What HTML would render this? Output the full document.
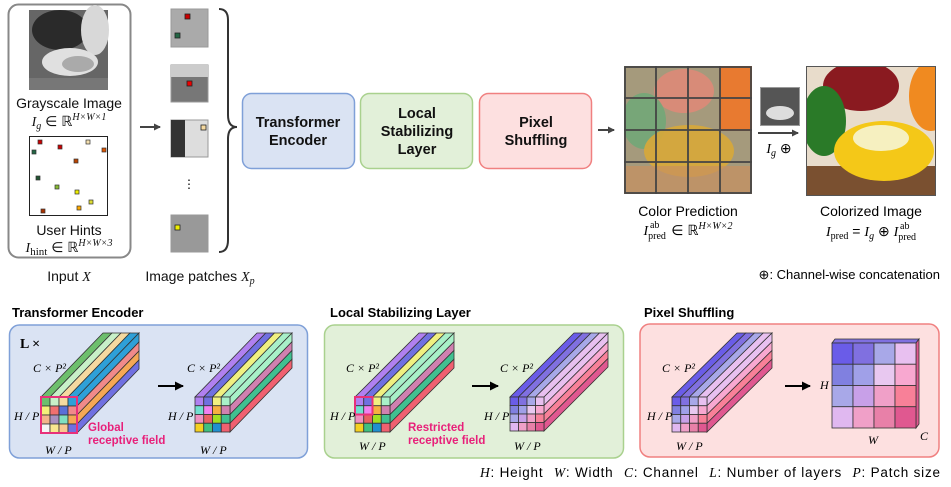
<!DOCTYPE html>
<html><head><meta charset="utf-8"><style>
body{margin:0;background:#fff}
svg{display:block;font-family:"Liberation Sans",sans-serif}
.m{font-family:"Liberation Serif",serif;font-style:italic}
</style></head><body>
<svg id="s" width="951" height="487" viewBox="0 0 951 487" xmlns="http://www.w3.org/2000/svg">
<defs>
<marker id="ah" markerWidth="8" markerHeight="8" refX="6" refY="4" orient="auto" markerUnits="userSpaceOnUse"><path d="M0,0.5 L7,4 L0,7.5 z" fill="#444"/></marker>
<marker id="ab" markerWidth="10" markerHeight="10" refX="8" refY="5" orient="auto" markerUnits="userSpaceOnUse"><path d="M0,0.5 L9,5 L0,9.5 z" fill="#000"/></marker>
</defs>
<!-- Input box -->
<rect x="8.5" y="4.5" width="122" height="253" rx="10" fill="#fff" stroke="#888" stroke-width="2"/>
<rect x="29" y="10" width="79" height="80" fill="#666"/>
<ellipse cx="60" cy="30" rx="28" ry="20" fill="#2a2a2a"/>
<ellipse cx="95" cy="30" rx="14" ry="25" fill="#d8d8d8"/>
<ellipse cx="70" cy="62" rx="28" ry="14" fill="#e0e0e0"/>
<ellipse cx="78" cy="64" rx="16" ry="8" fill="#aaa"/>
<rect x="29" y="78" width="79" height="12" fill="#777"/>
<text x="69" y="108" font-size="14" text-anchor="middle" fill="#111">Grayscale Image</text>
<text x="69" y="126" font-size="14" text-anchor="middle" fill="#111"><tspan class="m">I</tspan><tspan class="m" font-size="10" dy="3">g</tspan><tspan dy="-3"> ∈ ℝ</tspan><tspan class="m" font-size="10" dy="-6">H×W×1</tspan></text>
<rect x="29.5" y="136.5" width="78" height="79" fill="#fff" stroke="#222"/>
<g stroke="#333" stroke-width="0.7">
<rect x="38" y="140" width="4" height="4" fill="#c00"/><rect x="58" y="145" width="4" height="4" fill="#c00"/><rect x="86" y="140" width="4" height="4" fill="#f5e0b0"/><rect x="32" y="150" width="4" height="4" fill="#264"/><rect x="102" y="148" width="4" height="4" fill="#d50"/><rect x="74" y="159" width="4" height="4" fill="#b40"/><rect x="36" y="176" width="4" height="4" fill="#253"/><rect x="55" y="185" width="4" height="4" fill="#8b3"/><rect x="75" y="190" width="4" height="4" fill="#ee0"/><rect x="89" y="200" width="4" height="4" fill="#dd3"/><rect x="77" y="206" width="4" height="4" fill="#fa0"/><rect x="41" y="209" width="4" height="4" fill="#a30"/>
</g>
<text x="69" y="235" font-size="14" text-anchor="middle" fill="#111">User Hints</text>
<text x="69" y="252" font-size="14" text-anchor="middle" fill="#111"><tspan class="m">I</tspan><tspan font-family="Liberation Serif" font-size="11" dy="3">hint</tspan><tspan dy="-3"> ∈ ℝ</tspan><tspan class="m" font-size="10" dy="-6">H×W×3</tspan></text>
<text x="69" y="281" font-size="14" text-anchor="middle" fill="#111">Input <tspan class="m">X</tspan></text>
<line x1="140" y1="127" x2="160" y2="127" stroke="#444" stroke-width="2" marker-end="url(#ah)"/>
<!-- patches -->
<g stroke="#999"><rect x="171" y="9" width="37" height="38" fill="#aaa"/><rect x="171" y="65" width="37" height="37" fill="#777"/><rect x="171" y="120" width="37" height="37" fill="#ddd"/><rect x="171" y="215" width="37" height="37" fill="#999"/></g>
<rect x="171" y="120" width="14" height="37" fill="#333"/>
<rect x="171" y="65" width="37" height="12" fill="#ccc"/>
<g stroke="#222" stroke-width="0.8"><rect x="185" y="14" width="5" height="5" fill="#c00"/><rect x="175" y="33" width="5" height="5" fill="#264"/><rect x="187" y="81" width="5" height="5" fill="#e00"/><rect x="201" y="125" width="5" height="5" fill="#f5d9a0"/><rect x="175" y="225" width="5" height="5" fill="#ee0"/></g>
<text x="189" y="188" font-size="12" text-anchor="middle">⋮</text>
<text x="200" y="281" font-size="14" text-anchor="middle" fill="#111">Image patches <tspan class="m">X</tspan><tspan class="m" font-size="10" dy="3">p</tspan></text>
<path d="M219,9 Q228,9 228,20 L228,115 Q228,127 237,127 Q228,127 228,139 L228,240 Q228,252 219,252" fill="none" stroke="#333" stroke-width="2"/>
<!-- boxes -->
<rect x="242.5" y="93.5" width="112" height="75" rx="9" fill="#dae3f3" stroke="#7fa0d8" stroke-width="1.5"/>
<rect x="360.5" y="93.5" width="112" height="75" rx="9" fill="#e2f0d9" stroke="#a9d18e" stroke-width="1.5"/>
<rect x="479.5" y="93.5" width="112" height="75" rx="9" fill="#fde0e0" stroke="#f08080" stroke-width="1.5"/>
<g font-size="14.5" font-weight="bold" text-anchor="middle" fill="#111">
<text x="298" y="127">Transformer</text><text x="298" y="145">Encoder</text>
<text x="417" y="118">Local</text><text x="417" y="136">Stabilizing</text><text x="417" y="154">Layer</text>
<text x="536" y="127">Pixel</text><text x="536" y="145">Shuffling</text>
</g>
<line x1="598" y1="130" x2="614" y2="130" stroke="#444" stroke-width="2" marker-end="url(#ah)"/>
<!-- color prediction -->
<svg x="624" y="66" width="128" height="128" viewBox="0 0 128 128">
<rect width="128" height="128" fill="#a59a7c"/>
<ellipse cx="60" cy="25" rx="30" ry="22" fill="#e08878" opacity="0.85"/>
<ellipse cx="20" cy="55" rx="22" ry="28" fill="#6fa878" opacity="0.85"/>
<rect x="95" y="0" width="33" height="65" fill="#e87a30"/>
<ellipse cx="65" cy="85" rx="45" ry="26" fill="#d8a838" opacity="0.9"/>
<rect x="0" y="100" width="128" height="28" fill="#c89060" opacity="0.7"/>
<g stroke="#444" stroke-width="1.8" fill="none"><rect x="1" y="1" width="126" height="126"/><path d="M32,0V128M64,0V128M96,0V128M0,32H128M0,64H128M0,96H128"/></g>
</svg>
<text x="688" y="216" font-size="14" text-anchor="middle">Color Prediction</text>
<text x="688" y="235" font-size="14" text-anchor="middle"><tspan class="m">I</tspan><tspan font-family="Liberation Serif" font-size="10" dy="4">pred</tspan><tspan font-family="Liberation Serif" font-size="10" dx="-16" dy="-11">ab</tspan><tspan dx="8" dy="7"> ∈ ℝ</tspan><tspan class="m" font-size="10" dy="-6">H×W×2</tspan></text>
<rect x="760.5" y="87.5" width="39" height="38" fill="#555" stroke="#999"/>
<ellipse cx="780" cy="113" rx="14" ry="7" fill="#ddd"/>
<line x1="758" y1="133" x2="798" y2="133" stroke="#444" stroke-width="2" marker-end="url(#ah)"/>
<text x="779" y="153" font-size="14" text-anchor="middle"><tspan class="m">I</tspan><tspan class="m" font-size="10" dy="3">g</tspan><tspan dy="-3"> ⊕</tspan></text>
<!-- colorized -->
<svg x="806" y="66" width="130" height="130" viewBox="0 0 130 130">
<rect width="130" height="130" fill="#e8dccb"/>
<ellipse cx="55" cy="20" rx="38" ry="25" fill="#8a1a20"/>
<ellipse cx="125" cy="30" rx="22" ry="35" fill="#f08a20"/>
<ellipse cx="18" cy="55" rx="22" ry="35" fill="#2a7a28"/>
<rect x="0" y="100" width="130" height="30" fill="#7a5030"/>
<ellipse cx="78" cy="85" rx="50" ry="30" fill="#f4c818"/>
<ellipse cx="75" cy="72" rx="28" ry="13" fill="#f6f0c0"/>
<rect x=".5" y=".5" width="129" height="129" fill="none" stroke="#555"/>
</svg>
<text x="871" y="216" font-size="14" text-anchor="middle">Colorized Image</text>
<text x="871" y="236" font-size="14" text-anchor="middle"><tspan class="m">I</tspan><tspan font-family="Liberation Serif" font-size="10" dy="3">pred</tspan><tspan dy="-3"> = </tspan><tspan class="m">I</tspan><tspan class="m" font-size="10" dy="3">g</tspan><tspan dy="-3"> ⊕ </tspan><tspan class="m">I</tspan><tspan font-family="Liberation Serif" font-size="10" dy="4">pred</tspan><tspan font-family="Liberation Serif" font-size="10" dx="-16" dy="-11">ab</tspan></text>
<text x="940" y="279" font-size="13" text-anchor="end">⊕: Channel-wise concatenation</text>
<!-- bottom -->
<g font-size="13" font-weight="bold"><text x="12" y="317">Transformer Encoder</text><text x="330" y="317">Local Stabilizing Layer</text><text x="644" y="317">Pixel Shuffling</text></g>
<rect x="9.5" y="325" width="298" height="133" rx="10" fill="#dae3f3" stroke="#7fa0d8" stroke-width="1.5"/>
<rect x="324.5" y="325" width="299" height="133" rx="10" fill="#e2f0d9" stroke="#a9d18e" stroke-width="1.5"/>
<rect x="640" y="324" width="299" height="133" rx="10" fill="#fde0e0" stroke="#f08080" stroke-width="1.5"/>
<text x="20" y="348" font-size="14" font-weight="bold" font-family="Liberation Serif">L ×</text>
<g id="cubes"></g>
<g class="m" font-size="12">
<text x="33" y="372">C × P²</text><text x="187" y="372">C × P²</text>
<text x="14" y="420">H / P</text><text x="168" y="420">H / P</text>
<text x="45" y="454">W / P</text><text x="200" y="454">W / P</text>
<text x="346" y="372">C × P²</text><text x="500" y="372">C × P²</text>
<text x="330" y="420">H / P</text><text x="484" y="420">H / P</text>
<text x="359" y="450">W / P</text><text x="514" y="450">W / P</text>
<text x="662" y="372">C × P²</text><text x="647" y="420">H / P</text><text x="676" y="450">W / P</text>
<text x="820" y="389">H</text><text x="868" y="444">W</text><text x="920" y="440">C</text>
</g>
<g font-size="11.5" font-weight="bold" fill="#e8207a"><text x="88" y="431">Global</text><text x="88" y="444">receptive field</text><text x="408" y="431">Restricted</text><text x="408" y="444">receptive field</text></g>
<g stroke="#000" stroke-width="2"><line x1="158" y1="386" x2="183" y2="386" marker-end="url(#ab)"/><line x1="472" y1="386" x2="498" y2="386" marker-end="url(#ab)"/><line x1="785" y1="386" x2="810" y2="386" marker-end="url(#ab)"/></g>
<text x="480" y="477" font-size="13.5" textLength="460" lengthAdjust="spacing"><tspan class="m">H</tspan>: Height <tspan dx="6" class="m">W</tspan>: Width <tspan dx="6" class="m">C</tspan>: Channel <tspan dx="6" class="m">L</tspan>: Number of layers <tspan dx="6" class="m">P</tspan>: Patch size</text>
</svg>
<script>
const NS="http://www.w3.org/2000/svg",G=document.getElementById("cubes");
function el(t,a){const e=document.createElementNS(NS,t);for(const k in a)e.setAttribute(k,a[k]);G.appendChild(e);return e}
const A=[["#6dbf6d","#c8f0c8","#f5d9a0","#2ea0d8"],["#f5f07a","#f07070","#5a6fd8","#f08a8a"],["#f4b48a","#a890c0","#80e0c0","#f5a855"],["#f5f5f5","#f8e890","#f8c890","#7070e0"]];
const B=[["#b080f0","#7070e0","#f0f080","#a8f0c8"],["#70e0d0","#f080f0","#f5b040","#d080b0"],["#f090c0","#e86060","#a0e020","#40c090"],["#f5d020","#40c080","#2090d0","#f06070"]];
const C=[["#6a5ce8","#8070e0","#a8a8e8","#e8c0f0"],["#8080e0","#a0a0e8","#e8c8f0","#f8a8d0"],["#a8a8e8","#c8a0e8","#f0a0c8","#f88098"],["#e0b8f0","#f0a0c8","#e880a8","#e05890"]];
function cube(x,y,s,dx,dy,M){const c=s/4,st={stroke:"#333","stroke-width":0.8};
for(let i=0;i<4;i++){const a=x+i*c;el("polygon",Object.assign({points:`${a},${y} ${a+c},${y} ${a+c+dx},${y+dy} ${a+dx},${y+dy}`,fill:M[0][i]},st));}
for(let j=0;j<4;j++){const b=y+j*c,r=x+s;el("polygon",Object.assign({points:`${r},${b} ${r+dx},${b+dy} ${r+dx},${b+c+dy} ${r},${b+c}`,fill:M[j][3]},st));}
for(let j=0;j<4;j++)for(let i=0;i<4;i++)el("rect",Object.assign({x:x+i*c,y:y+j*c,width:c,height:c,fill:M[j][i]},st));}
cube(41,397,36,62,-64,A);cube(195,397,35,62,-64,B);
cube(355,397,35,64,-64,B);cube(510,397,34,64,-64,C);cube(672,397,35,65,-64,C);
el("rect",{x:41,y:397,width:36,height:36,fill:"none",stroke:"#e8307a","stroke-width":2});
el("rect",{x:355,y:397,width:17.5,height:17.5,fill:"none",stroke:"#e8307a","stroke-width":2});
el("polygon",{points:"832,343 835,339 919,339 916,343",fill:"#8070e0",stroke:"#333","stroke-width":0.8});
el("polygon",{points:"916,343 919,339 919,424 916,428",fill:"#e05890",stroke:"#333","stroke-width":0.8});
for(let j=0;j<4;j++)for(let i=0;i<4;i++)el("rect",{x:832+i*21,y:343+j*21.25,width:21,height:21.25,fill:C[j][i],stroke:"#333","stroke-width":0.8});
</script>
</body></html>
